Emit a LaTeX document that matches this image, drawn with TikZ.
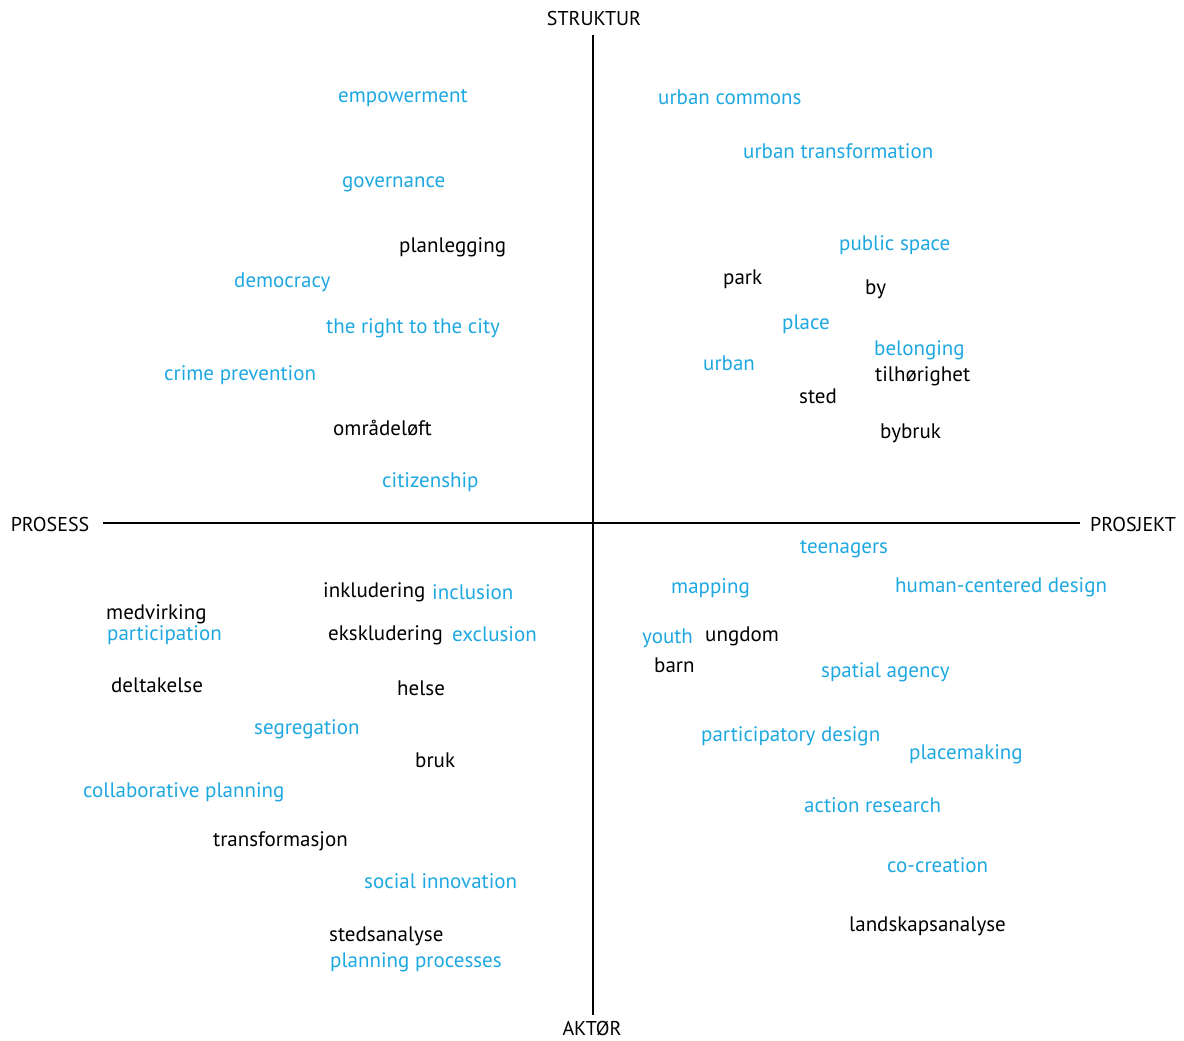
\documentclass[tikz,border=0pt]{standalone}
\usepackage{fontspec}
\setmainfont{PT Sans}
\usetikzlibrary{positioning}
\definecolor{wordblue}{RGB}{30,168,226}
\tikzset{Word/.style={anchor=west,inner sep=0pt,yshift=-1.5pt,font=\fontsize{21}{24}\selectfont}}
\tikzset{BlueWord/.style={Word,text=wordblue}}
\tikzset{AxisLabel/.style={inner sep=0pt,yshift=-1pt,font=\fontsize{20}{24}\selectfont}}

\begin{document}
\begin{tikzpicture}[x=1pt,y=-1pt]
        \useasboundingbox (0,0) rectangle (1184,1041);
        % axes
        \coordinate (T) at (593,35);
        \coordinate (B) at (593,1015);
        \coordinate (L) at (103,523);
        \coordinate (R) at (1080,523);
        \draw[line width=1.3pt] (T) -- (B);
        \draw[line width=1.3pt] (L) -- (R);
        \node[AxisLabel] (struktur) at (594,18) {STRUKTUR};
        \node[AxisLabel] (aktor) at (592,1027) {AKTØR};
        \node[AxisLabel] (prosess) at (50,523) {PROSESS};
        \node[AxisLabel] (prosjekt) at (1133,523) {PROSJEKT};
        % struktur / prosess
        \node[BlueWord] (empowerment) at (338,97) {empowerment};
        \node[BlueWord] (governance) at (342,183) {governance};
        \node[Word] (planlegging) at (399,246) {planlegging};
        \node[BlueWord] (democracy) at (234,281) {democracy};
        \node[BlueWord] (right) at (326,327) {the right to the city};
        \node[BlueWord] (crime) at (164,374) {crime prevention};
        \node[Word] (omradeloft) at (333,426) {områdeløft};
        \node[BlueWord] (citizenship) at (382,481) {citizenship};
        % struktur / prosjekt
        \node[BlueWord] (commons) at (658,96) {urban commons};
        \node[BlueWord] (transformation) at (743,150) {urban transformation};
        \node[BlueWord] (publicspace) at (839,244) {public space};
        \node[Word] (park) at (723,278) {park};
        \node[Word] (by) at (865,288) {by};
        \node[BlueWord] (place) at (782,323) {place};
        \node[BlueWord] (belonging) at (874,349) {belonging};
        \node[BlueWord] (urban) at (703,362) {urban};
        \node[Word] (tilhorighet) at (875,375) {tilhørighet};
        \node[Word] (sted) at (799,395) {sted};
        \node[Word] (bybruk) at (880,432) {bybruk};
        % aktor / prosess
        \node[Word] (inkludering) at (323,591) {inkludering};
        \node[BlueWord] (inclusion) at (432,591) {inclusion};
        \node[Word] (medvirking) at (106,613) {medvirking};
        \node[BlueWord] (participation) at (107,634) {participation};
        \node[Word] (ekskludering) at (328,634) {ekskludering};
        \node[BlueWord] (exclusion) at (452,633) {exclusion};
        \node[Word] (deltakelse) at (111,684) {deltakelse};
        \node[Word] (helse) at (397,687) {helse};
        \node[BlueWord] (segregation) at (254,728) {segregation};
        \node[Word] (bruk) at (415,759) {bruk};
        \node[BlueWord] (collaborative) at (83,791) {collaborative planning};
        \node[Word] (transformasjon) at (213,840) {transformasjon};
        \node[BlueWord] (socialinnovation) at (364,880) {social innovation};
        \node[Word] (stedsanalyse) at (329,935) {stedsanalyse};
        \node[BlueWord] (planningprocesses) at (330,961) {planning processes};
        % aktor / prosjekt
        \node[BlueWord] (teenagers) at (800,548) {teenagers};
        \node[BlueWord] (mapping) at (671,587) {mapping};
        \node[BlueWord] (humancentered) at (895,586) {human-centered design};
        \node[BlueWord] (youth) at (642,637) {youth};
        \node[Word] (ungdom) at (705,635) {ungdom};
        \node[Word] (barn) at (654,664) {barn};
        \node[BlueWord] (spatialagency) at (821,671) {spatial agency};
        \node[BlueWord] (participatory) at (701,735) {participatory design};
        \node[BlueWord] (placemaking) at (909,753) {placemaking};
        \node[BlueWord] (actionresearch) at (804,804) {action research};
        \node[BlueWord] (cocreation) at (887,864) {co-creation};
        \node[Word] (landskapsanalyse) at (849,925) {landskapsanalyse};
\end{tikzpicture}
\end{document}
